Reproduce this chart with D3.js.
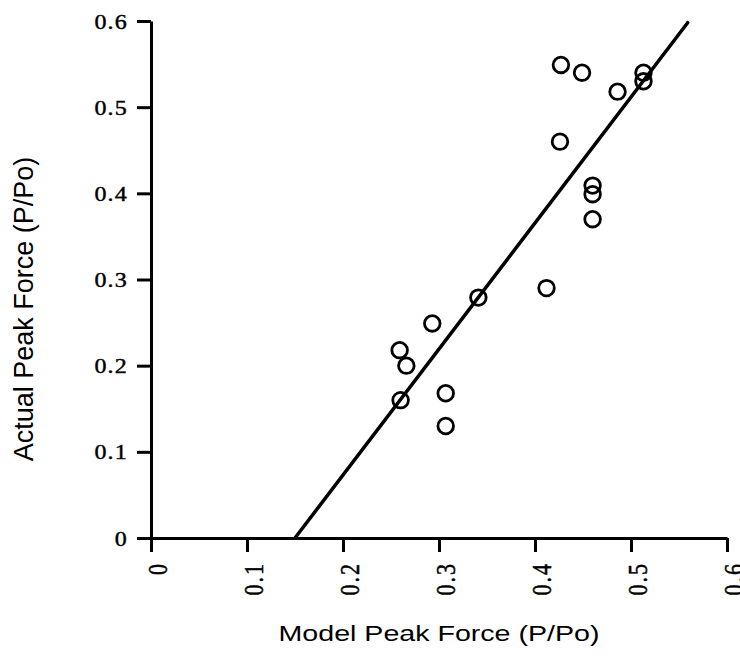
<!DOCTYPE html>
<html>
<head>
<meta charset="utf-8">
<script src="https://cdn.jsdelivr.net/npm/d3@7"></script>
<style>
  html, body { margin: 0; padding: 0; background: #fff; }
  svg { display: block; }
</style>
</head>
<body>
<svg id="chart" width="740" height="656"></svg>
<script>
// Data
const modelForce  = [0.259, 0.266, 0.260, 0.293, 0.307, 0.307, 0.341, 0.412, 0.427, 0.449, 0.426, 0.460, 0.460, 0.460, 0.486, 0.513, 0.513];
const actualForce = [0.218, 0.200, 0.160, 0.249, 0.168, 0.130, 0.279, 0.290, 0.549, 0.540, 0.460, 0.409, 0.399, 0.370, 0.518, 0.540, 0.530];
const fitLineX = [0.15, 0.559];
const fitLineY = [0.0, 0.598];
const xTicks = [0, 0.1, 0.2, 0.3, 0.4, 0.5, 0.6];
const yTicks = [0, 0.1, 0.2, 0.3, 0.4, 0.5, 0.6];
const xTickLabels = ["0", "0.1", "0.2", "0.3", "0.4", "0.5", "0.6"];
const yTickLabels = ["0", "0.1", "0.2", "0.3", "0.4", "0.5", "0.6"];
const xTitle = "Model Peak Force (P/Po)";
const yTitle = "Actual Peak Force (P/Po)";

const svg = d3.select("#chart");
const x = d3.scaleLinear().domain([0, 0.6]).range([151, 727]);
const y = d3.scaleLinear().domain([0, 0.6]).range([538, 21]);

const serif = "'Liberation Serif', 'Times New Roman', serif";
const sans = "'Liberation Sans', Arial, sans-serif";

// X axis
const xAxis = d3.axisBottom(x).tickValues(xTicks).tickSize(14).tickSizeOuter(0)
  .tickFormat((d, i) => xTickLabels[i]);
const gx = svg.append("g").attr("transform", `translate(0,${y(0)})`).call(xAxis);
gx.select(".domain").attr("stroke", "#000").attr("stroke-width", 3);
gx.selectAll(".tick line").attr("stroke", "#000").attr("stroke-width", 3);
gx.selectAll(".tick text")
  .attr("font-family", serif).attr("font-size", 22).attr("fill", "#000")
  .attr("stroke", "#000").attr("stroke-width", 0.4)
  .style("letter-spacing", "2px")
  .attr("text-anchor", "end")
  .attr("x", 0).attr("y", 0).attr("dy", "0.35em")
  .attr("transform", "translate(6,24) rotate(-90) scale(1,1.25)");

// Y axis
const yAxis = d3.axisLeft(y).tickValues(yTicks).tickSize(14).tickSizeOuter(0)
  .tickFormat((d, i) => yTickLabels[i]);
const gy = svg.append("g").attr("transform", `translate(${x(0)},0)`).call(yAxis);
gy.select(".domain").attr("stroke", "#000").attr("stroke-width", 3);
gy.selectAll(".tick line").attr("stroke", "#000").attr("stroke-width", 3);
gy.selectAll(".tick text")
  .attr("font-family", serif).attr("font-size", 20).attr("fill", "#000")
  .attr("stroke", "#000").attr("stroke-width", 0.4)
  .style("letter-spacing", "1px")
  .attr("x", 0).attr("dy", "0.35em")
  .attr("transform", "translate(-23,0) scale(1.2,1)");

// Fit line
svg.append("line")
  .attr("x1", x(fitLineX[0])).attr("y1", y(fitLineY[0]))
  .attr("x2", x(fitLineX[1])).attr("y2", y(fitLineY[1]))
  .attr("stroke", "#000").attr("stroke-width", 3.5).attr("stroke-linecap", "round");

// Points
svg.append("g").selectAll("circle")
  .data(modelForce.map((v, i) => [v, actualForce[i]]))
  .join("circle")
  .attr("cx", d => x(d[0])).attr("cy", d => y(d[1]))
  .attr("r", 7.8)
  .attr("fill", "none").attr("stroke", "#000").attr("stroke-width", 2.8);

// Titles
svg.append("text")
  .attr("text-anchor", "middle")
  .attr("font-family", sans).attr("font-size", 22).attr("fill", "#000")
  .attr("transform", "translate(439,641) scale(1.3,1)")
  .text(xTitle);

svg.append("text")
  .attr("transform", "translate(33,309) rotate(-90)")
  .attr("text-anchor", "middle")
  .attr("font-family", sans).attr("font-size", 27).attr("fill", "#000")
  .text(yTitle);
</script>
</body>
</html>
